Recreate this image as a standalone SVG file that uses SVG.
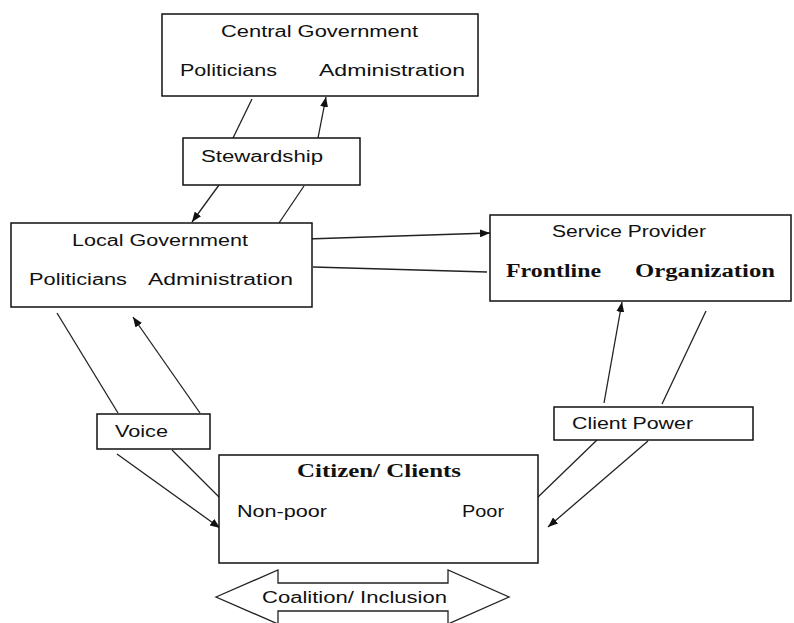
<svg xmlns="http://www.w3.org/2000/svg" width="794" height="623" viewBox="0 0 794 623">
<defs>
<style>
.box{fill:#fff;stroke:#111;stroke-width:1.5}
.t{font-family:"Liberation Sans","Open Sans",sans-serif;font-size:16px;fill:#111}
.s{font-family:"Liberation Serif","Times New Roman",serif;font-size:18px;fill:#111;font-weight:bold}
.ln{stroke:#222;stroke-width:1.3;fill:none}
.ar{stroke:#222;stroke-width:1.3;fill:none;marker-end:url(#ah)}
</style>
<marker id="ah" viewBox="0 0 10 8" refX="10" refY="4" markerWidth="10" markerHeight="8" markerUnits="userSpaceOnUse" orient="auto">
<path d="M0,0 L10,4 L0,8 Z" fill="#111"/>
</marker>
</defs>
<rect width="794" height="623" fill="#fff"/>
<g id="connectors">
<line class="ln" x1="252" y1="99" x2="233" y2="138"/>
<line class="ar" x1="318" y1="138" x2="326" y2="97"/>
<line class="ar" x1="219" y1="185" x2="192" y2="222"/>
<line class="ln" x1="304" y1="186" x2="279" y2="223"/>
<line class="ar" x1="307" y1="239" x2="490" y2="233"/>
<line class="ln" x1="313" y1="267" x2="487" y2="272"/>
<line class="ln" x1="57" y1="313" x2="118" y2="413"/>
<line class="ar" x1="200" y1="413" x2="133" y2="317"/>
<line class="ln" x1="172" y1="450" x2="221" y2="499"/>
<line class="ar" x1="117" y1="454" x2="220" y2="528"/>
<line class="ar" x1="604" y1="403" x2="622" y2="302"/>
<line class="ln" x1="706" y1="311" x2="662" y2="404"/>
<line class="ln" x1="597" y1="440" x2="537" y2="498"/>
<line class="ar" x1="648" y1="441" x2="548" y2="527"/>
</g>
<g id="central">
<rect class="box" x="162" y="14" width="316" height="82"/>
<text class="t" x="221" y="37" textLength="197" lengthAdjust="spacingAndGlyphs">Central Government</text>
<text class="t" x="180" y="76" textLength="97" lengthAdjust="spacingAndGlyphs">Politicians</text>
<text class="t" x="319" y="76" textLength="146" lengthAdjust="spacingAndGlyphs">Administration</text>
</g>
<g id="stewardship">
<rect class="box" x="183" y="138" width="177" height="47"/>
<text class="t" x="201" y="162" textLength="122" lengthAdjust="spacingAndGlyphs">Stewardship</text>
</g>
<g id="local">
<rect class="box" x="11" y="223" width="301" height="84"/>
<text class="t" x="72" y="246" textLength="176" lengthAdjust="spacingAndGlyphs">Local Government</text>
<text class="t" x="29" y="285" textLength="98" lengthAdjust="spacingAndGlyphs">Politicians</text>
<text class="t" x="148" y="285" textLength="145" lengthAdjust="spacingAndGlyphs">Administration</text>
</g>
<g id="service">
<rect class="box" x="490" y="215" width="301" height="86"/>
<text class="t" x="552" y="237" textLength="154" lengthAdjust="spacingAndGlyphs">Service Provider</text>
<text class="s" x="506" y="277" textLength="95" lengthAdjust="spacingAndGlyphs">Frontline</text>
<text class="s" x="635" y="277" textLength="140" lengthAdjust="spacingAndGlyphs">Organization</text>
</g>
<g id="voice">
<rect class="box" x="97" y="414" width="113" height="35"/>
<text class="t" x="115" y="437" textLength="53" lengthAdjust="spacingAndGlyphs">Voice</text>
</g>
<g id="clientpower">
<rect class="box" x="554" y="407" width="199" height="33"/>
<text class="t" x="572" y="429" textLength="121" lengthAdjust="spacingAndGlyphs">Client Power</text>
</g>
<g id="citizen">
<rect class="box" x="219" y="455" width="319" height="108"/>
<text class="s" x="297" y="477" textLength="164" lengthAdjust="spacingAndGlyphs">Citizen/ Clients</text>
<text class="t" x="237" y="517" textLength="90" lengthAdjust="spacingAndGlyphs">Non-poor</text>
<text class="t" x="462" y="517" textLength="42" lengthAdjust="spacingAndGlyphs">Poor</text>
</g>
<g id="coalition">
<path d="M216,597 L278,570 L278,583 L448,583 L448,570 L509,597 L448,624 L448,611 L278,611 L278,624 Z" fill="#fff" stroke="#222" stroke-width="1.3"/>
<text class="t" x="262" y="603" textLength="185" lengthAdjust="spacingAndGlyphs">Coalition/ Inclusion</text>
</g>
</svg>
